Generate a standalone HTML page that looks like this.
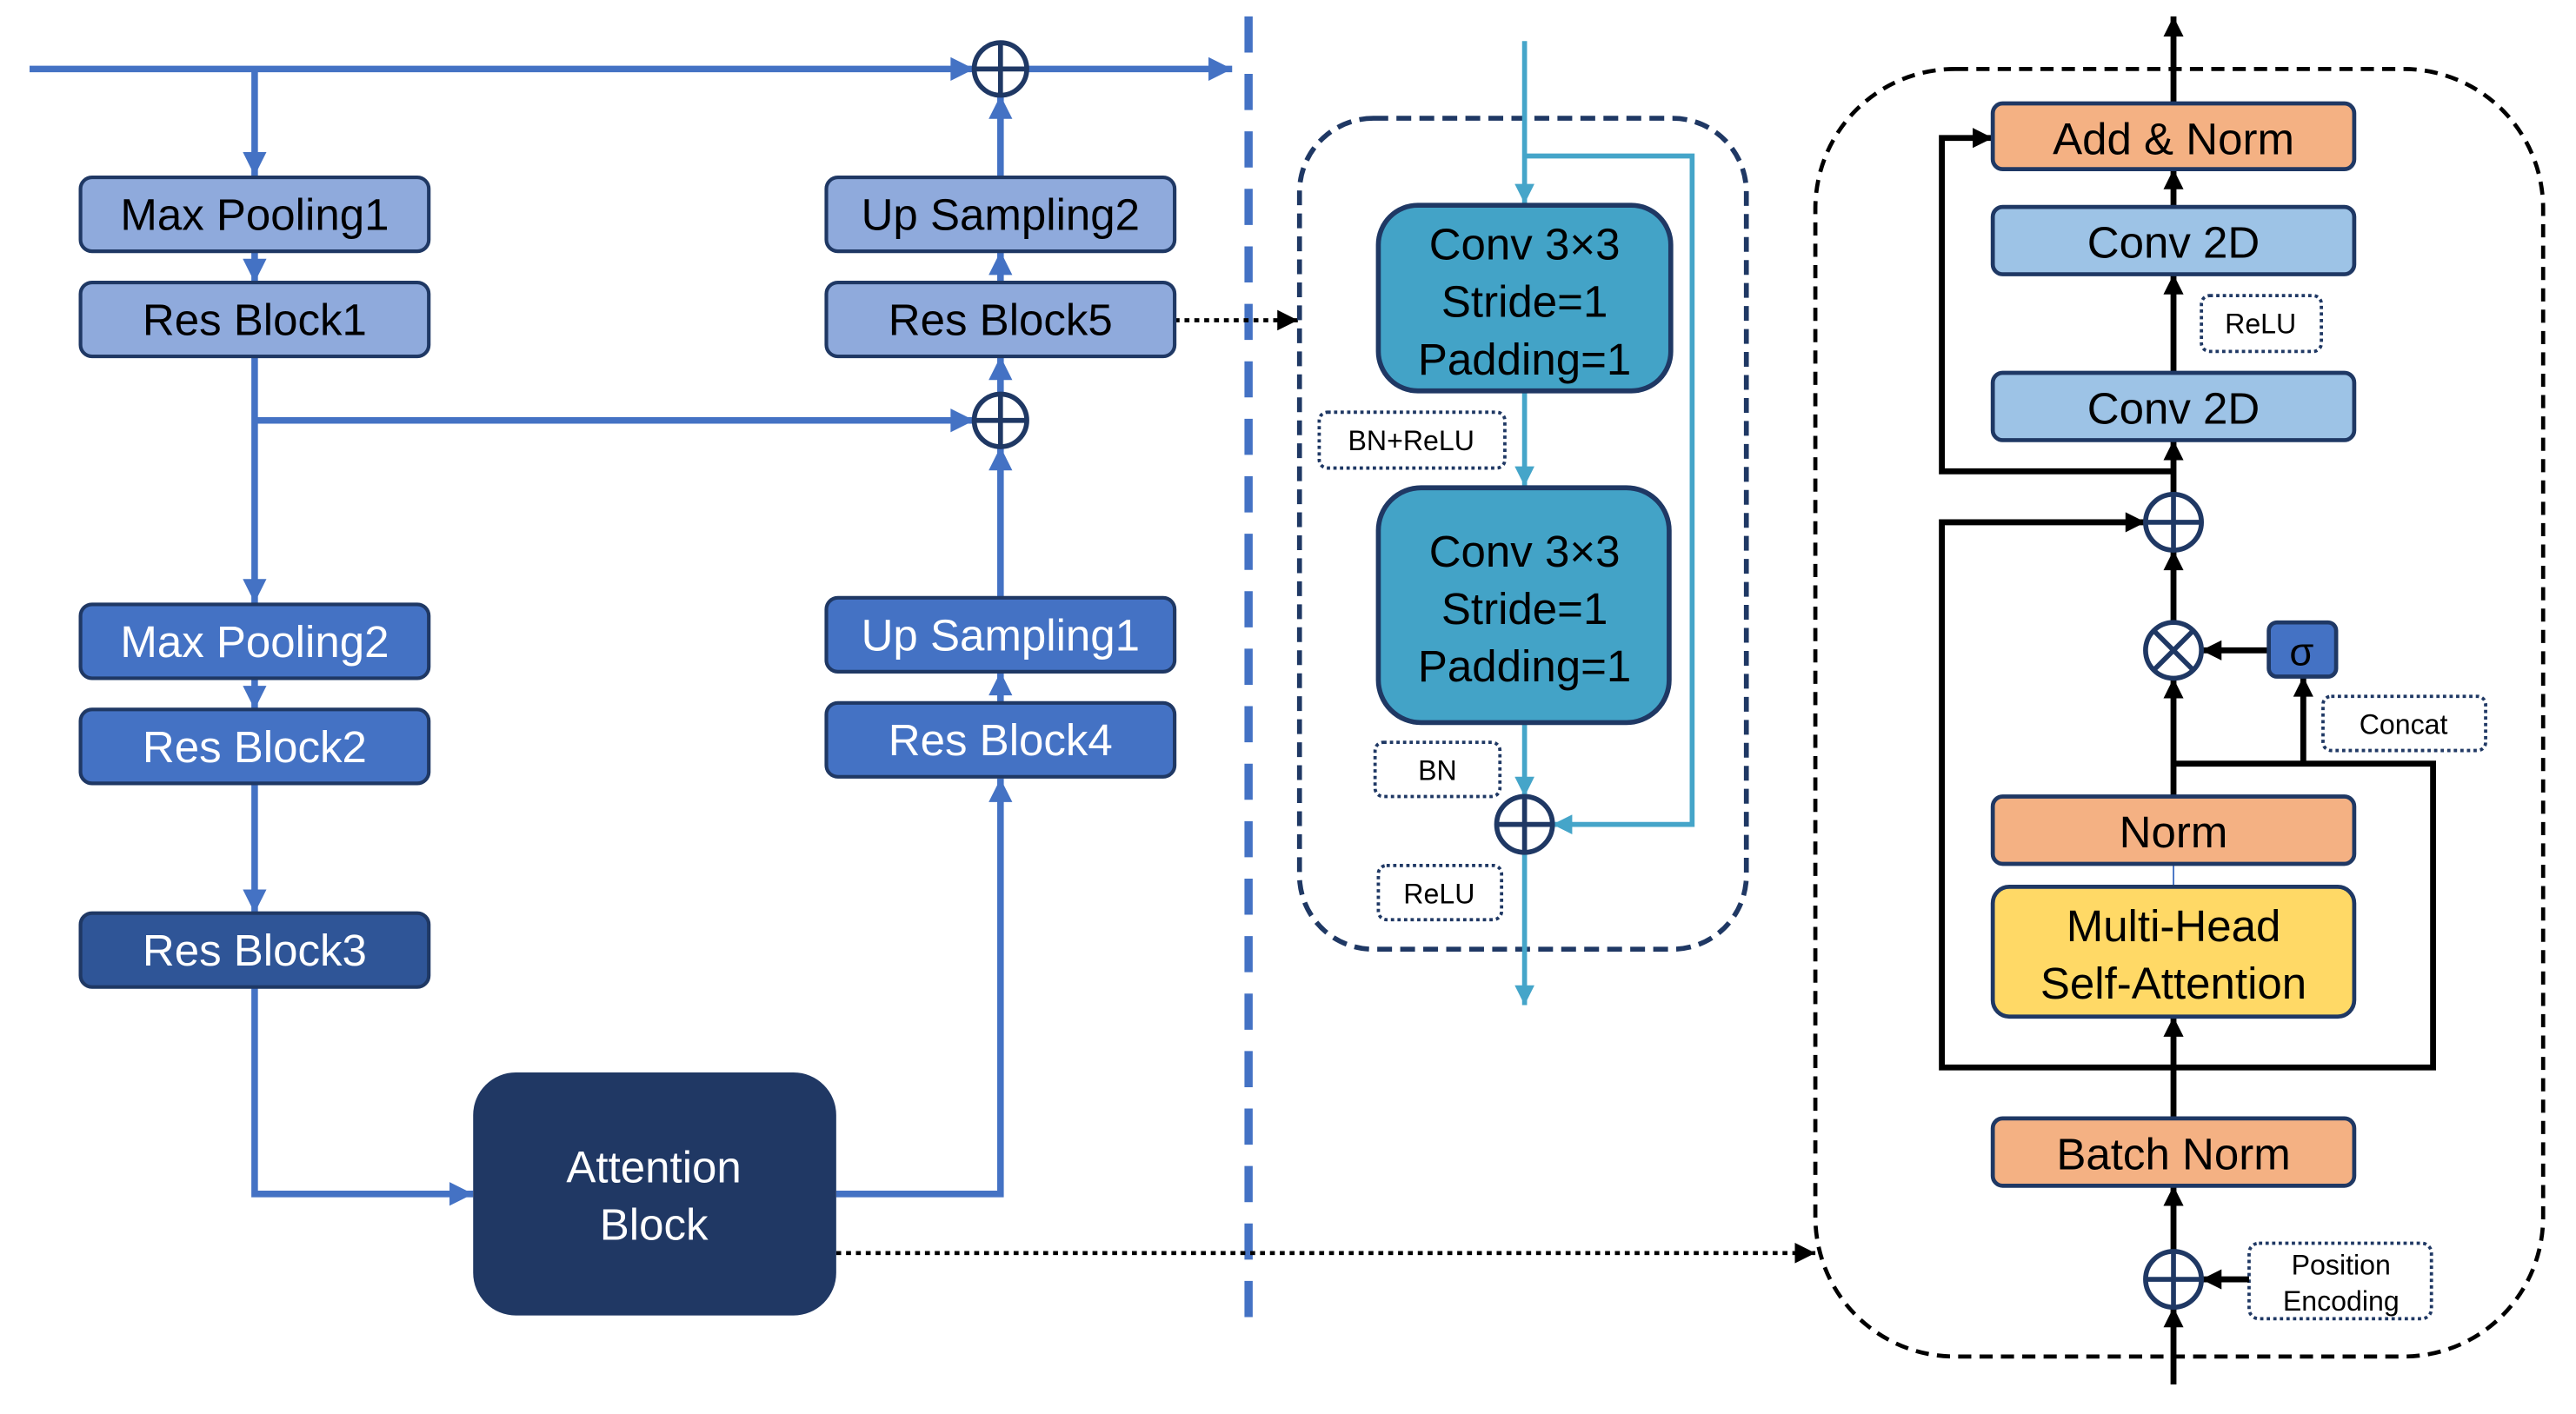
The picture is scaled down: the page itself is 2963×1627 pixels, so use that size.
<!DOCTYPE html>
<html><head><meta charset="utf-8"><style>
html,body{margin:0;padding:0;background:#fff;}
svg{display:block;}
text{font-family:"Liberation Sans",sans-serif;text-anchor:middle;}
</style></head><body>
<svg width="2963" height="1627" viewBox="0 0 1568 861" xmlns="http://www.w3.org/2000/svg">
<defs>
<marker id="ab" viewBox="0 0 10 10" refX="10" refY="5" markerWidth="4" markerHeight="3.6" orient="auto" markerUnits="strokeWidth"><path d="M0,0 L10,5 L0,10 z" fill="#4472c4"/></marker>
<marker id="ac" viewBox="0 0 10 10" refX="10" refY="5" markerWidth="4.5" markerHeight="4" orient="auto" markerUnits="strokeWidth"><path d="M0,0 L10,5 L0,10 z" fill="#45a5c9"/></marker>
<marker id="ak" viewBox="0 0 10 10" refX="10" refY="5" markerWidth="3.6" markerHeight="3.4" orient="auto" markerUnits="strokeWidth"><path d="M0,0 L10,5 L0,10 z" fill="#000"/></marker>
<marker id="ad" viewBox="0 0 10 10" refX="10" refY="5" markerWidth="5" markerHeight="5" orient="auto" markerUnits="strokeWidth"><path d="M0,0 L10,5 L0,10 z" fill="#000"/></marker>
</defs>

<!-- separator -->
<line x1="760" y1="10" x2="760" y2="812" stroke="#4472c4" stroke-width="5" stroke-dasharray="22 13"/>

<!-- LEFT lines -->
<g stroke="#4472c4" stroke-width="4" fill="none">
<line x1="18" y1="42" x2="593" y2="42" marker-end="url(#ab)"/>
<line x1="625" y1="42" x2="750" y2="42" marker-end="url(#ab)"/>
<line x1="155" y1="42" x2="155" y2="107" marker-end="url(#ab)"/>
<line x1="155" y1="153" x2="155" y2="172" marker-end="url(#ab)"/>
<line x1="155" y1="217" x2="155" y2="367" marker-end="url(#ab)"/>
<line x1="155" y1="256" x2="593" y2="256" marker-end="url(#ab)"/>
<line x1="155" y1="413" x2="155" y2="432" marker-end="url(#ab)"/>
<line x1="155" y1="477" x2="155" y2="556" marker-end="url(#ab)"/>
<polyline points="155,601 155,727 288,727" marker-end="url(#ab)"/>
<polyline points="509,727 609,727 609,474" marker-end="url(#ab)"/>
<line x1="609" y1="428" x2="609" y2="409" marker-end="url(#ab)"/>
<line x1="609" y1="364" x2="609" y2="272" marker-end="url(#ab)"/>
<line x1="609" y1="240" x2="609" y2="217" marker-end="url(#ab)"/>
<line x1="609" y1="172" x2="609" y2="153" marker-end="url(#ab)"/>
<line x1="609" y1="108" x2="609" y2="58" marker-end="url(#ab)"/>
</g>
<g stroke="#000" stroke-width="2.5" stroke-dasharray="3 3" fill="none">
<line x1="715" y1="195" x2="790" y2="195" marker-end="url(#ad)"/>
<line x1="509" y1="763" x2="1105" y2="763" marker-end="url(#ad)"/>
</g>

<!-- LEFT boxes -->
<g stroke="#1f3864" stroke-width="2.2">
<rect x="49" y="108" width="212" height="45" rx="7" fill="#8faadc"/>
<rect x="49" y="172" width="212" height="45" rx="7" fill="#8faadc"/>
<rect x="49" y="368" width="212" height="45" rx="7" fill="#4472c4"/>
<rect x="49" y="432" width="212" height="45" rx="7" fill="#4472c4"/>
<rect x="49" y="556" width="212" height="45" rx="7" fill="#2f5597"/>
<rect x="503" y="108" width="212" height="45" rx="7" fill="#8faadc"/>
<rect x="503" y="172" width="212" height="45" rx="7" fill="#8faadc"/>
<rect x="503" y="364" width="212" height="45" rx="7" fill="#4472c4"/>
<rect x="503" y="428" width="212" height="45" rx="7" fill="#4472c4"/>
</g>
<rect x="288" y="653" width="221" height="148" rx="26" fill="#203864"/>
<g font-size="27">
<text x="155" y="140" fill="#000">Max Pooling1</text>
<text x="155" y="204" fill="#000">Res Block1</text>
<text x="155" y="400" fill="#fff">Max Pooling2</text>
<text x="155" y="464" fill="#fff">Res Block2</text>
<text x="155" y="588" fill="#fff">Res Block3</text>
<text x="609" y="140" fill="#000">Up Sampling2</text>
<text x="609" y="204" fill="#000">Res Block5</text>
<text x="609" y="396" fill="#fff">Up Sampling1</text>
<text x="609" y="460" fill="#fff">Res Block4</text>
<text x="398" y="720" fill="#fff">Attention</text>
<text x="398" y="755" fill="#fff">Block</text>
</g>
<g stroke="#1f3864" stroke-width="3" fill="#fff">
<circle cx="609" cy="42" r="16"/><line x1="593" y1="42" x2="625" y2="42"/><line x1="609" y1="26" x2="609" y2="58"/>
<circle cx="609" cy="256" r="16"/><line x1="593" y1="256" x2="625" y2="256"/><line x1="609" y1="240" x2="609" y2="272"/>
</g>

<!-- MIDDLE -->
<rect x="791" y="72" width="272" height="506" rx="45" fill="none" stroke="#1f3864" stroke-width="3" stroke-dasharray="9 5"/>
<g stroke="#45a5c9" stroke-width="3" fill="none">
<line x1="928" y1="25" x2="928" y2="124" marker-end="url(#ac)"/>
<polyline points="928,95 1030,95 1030,502 945,502" marker-end="url(#ac)"/>
<line x1="928" y1="238" x2="928" y2="296" marker-end="url(#ac)"/>
<line x1="928" y1="440" x2="928" y2="485" marker-end="url(#ac)"/>
<line x1="928" y1="519" x2="928" y2="612" marker-end="url(#ac)"/>
</g>
<g stroke="#1f3864" stroke-width="3" fill="#43a3c7">
<rect x="839" y="125" width="178" height="113" rx="24"/>
<rect x="839" y="297" width="177" height="143" rx="26"/>
</g>
<g font-size="27" fill="#000">
<text x="928" y="158">Conv 3×3</text>
<text x="928" y="193">Stride=1</text>
<text x="928" y="228">Padding=1</text>
<text x="928" y="345">Conv 3×3</text>
<text x="928" y="380">Stride=1</text>
<text x="928" y="415">Padding=1</text>
</g>
<g stroke="#1f3864" stroke-width="3" fill="#fff">
<circle cx="928" cy="502" r="17"/><line x1="911" y1="502" x2="945" y2="502"/><line x1="928" y1="485" x2="928" y2="519"/>
</g>
<g stroke="#1f3864" stroke-width="2" stroke-dasharray="2 2" fill="#fff">
<rect x="803" y="251" width="113" height="34" rx="5"/>
<rect x="837" y="452" width="76" height="33" rx="5"/>
<rect x="839" y="527" width="75" height="33" rx="5"/>
<rect x="1340" y="180" width="73" height="34" rx="5"/>
<rect x="1414" y="424" width="99" height="33" rx="5"/>
<rect x="1369" y="757" width="111" height="46" rx="6"/>
</g>
<g font-size="17" fill="#000">
<text x="859" y="274">BN+ReLU</text>
<text x="875" y="475">BN</text>
<text x="876" y="550">ReLU</text>
<text x="1376" y="203">ReLU</text>
<text x="1463" y="447">Concat</text>
<text x="1425" y="776">Position</text>
<text x="1425" y="798">Encoding</text>
</g>

<!-- RIGHT -->
<rect x="1105" y="42" width="443" height="784" rx="85" fill="none" stroke="#000" stroke-width="2.5" stroke-dasharray="8 5"/>
<g stroke="#000" stroke-width="3.6" fill="none">
<line x1="1323" y1="843" x2="1323" y2="796" marker-end="url(#ak)"/>
<line x1="1323" y1="762" x2="1323" y2="722" marker-end="url(#ak)"/>
<line x1="1323" y1="681" x2="1323" y2="619" marker-end="url(#ak)"/>
<line x1="1323" y1="485" x2="1323" y2="413" marker-end="url(#ak)"/>
<line x1="1323" y1="379" x2="1323" y2="335" marker-end="url(#ak)"/>
<line x1="1323" y1="301" x2="1323" y2="268" marker-end="url(#ak)"/>
<line x1="1323" y1="227" x2="1323" y2="167" marker-end="url(#ak)"/>
<line x1="1323" y1="126" x2="1323" y2="103" marker-end="url(#ak)"/>
<line x1="1323" y1="63" x2="1323" y2="10" marker-end="url(#ak)"/>
<polyline points="1323,287 1182,287 1182,84 1213,84" marker-end="url(#ak)"/>
<polyline points="1323,465 1481,465 1481,650 1182,650 1182,318 1306,318" marker-end="url(#ak)"/>
<line x1="1402" y1="465" x2="1402" y2="412" marker-end="url(#ak)"/>
<line x1="1381" y1="396" x2="1340" y2="396" marker-end="url(#ak)"/>
<line x1="1369" y1="779" x2="1340" y2="779" marker-end="url(#ak)"/>
</g>
<line x1="1323" y1="526" x2="1323" y2="540" stroke="#4472c4" stroke-width="1"/>
<g stroke="#1f3864" stroke-width="2.5">
<rect x="1213" y="63" width="220" height="40" rx="6" fill="#f4b183"/>
<rect x="1213" y="126" width="220" height="41" rx="6" fill="#9dc3e6"/>
<rect x="1213" y="227" width="220" height="41" rx="6" fill="#9dc3e6"/>
<rect x="1213" y="485" width="220" height="41" rx="6" fill="#f4b183"/>
<rect x="1213" y="540" width="220" height="79" rx="10" fill="#ffd966"/>
<rect x="1213" y="681" width="220" height="41" rx="6" fill="#f4b183"/>
<rect x="1381" y="379" width="41" height="33" rx="5" fill="#4472c4"/>
</g>
<g font-size="27" fill="#000">
<text x="1323" y="94">Add &amp; Norm</text>
<text x="1323" y="157">Conv 2D</text>
<text x="1323" y="258">Conv 2D</text>
<text x="1323" y="516">Norm</text>
<text x="1323" y="573">Multi-Head</text>
<text x="1323" y="608">Self-Attention</text>
<text x="1323" y="712">Batch Norm</text>
<text x="1401" y="405" font-size="24">σ</text>
</g>
<g stroke="#1f3864" stroke-width="3" fill="#fff">
<circle cx="1323" cy="318" r="17"/><line x1="1306" y1="318" x2="1340" y2="318"/><line x1="1323" y1="301" x2="1323" y2="335"/>
<circle cx="1323" cy="779" r="17"/><line x1="1306" y1="779" x2="1340" y2="779"/><line x1="1323" y1="762" x2="1323" y2="796"/>
<circle cx="1323" cy="396" r="17"/><line x1="1311" y1="384" x2="1335" y2="408"/><line x1="1335" y1="384" x2="1311" y2="408"/>
</g>
</svg>
</body></html>
